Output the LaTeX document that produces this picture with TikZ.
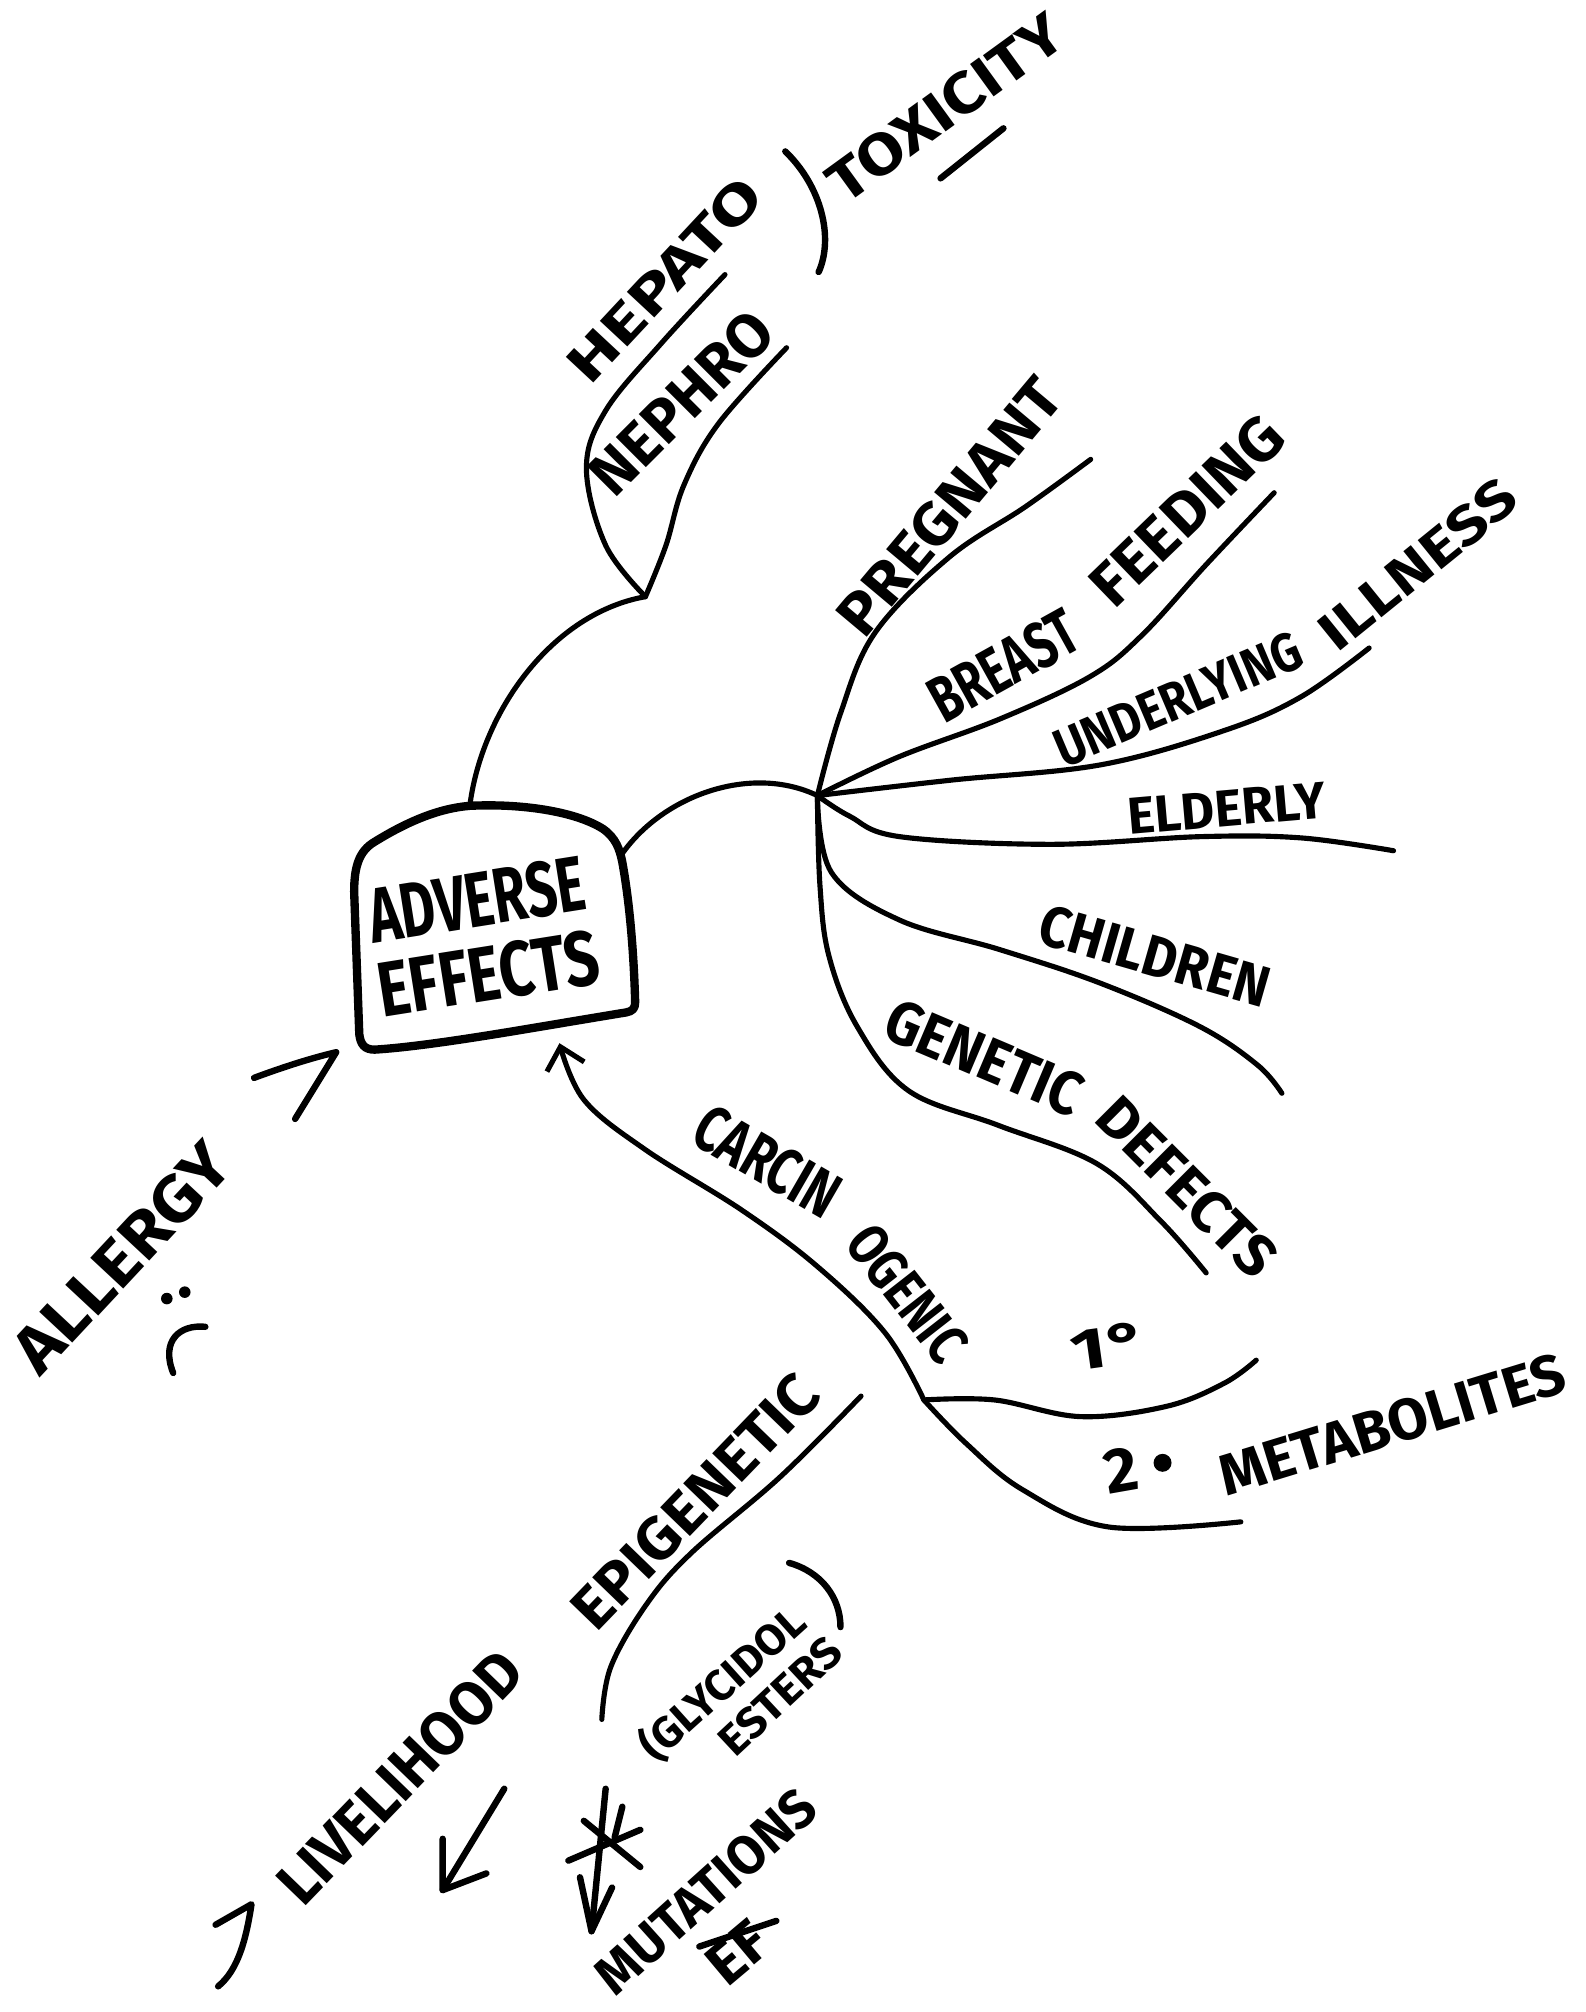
\documentclass[tikz,border=0pt]{standalone}
\usepackage{fontspec}
\setmainfont{Fira Sans}
\usetikzlibrary{arrows.meta}
% hand-lettered caps: text squeezed into a given width and height
\newcommand\handtxt[3]{\resizebox{#1pt}{#2pt}{\bfseries #3}}
\begin{document}
\begin{tikzpicture}[x=1pt,y=-1pt,line cap=round,line join=round]
\tikzset{
  conn/.style={line width=4pt},
  stroke/.style={line width=5pt},
  boxline/.style={line width=6.5pt},
  lbl/.style={inner sep=0pt,outer sep=0pt},
  barb/.style={-{Straight Barb[length=16pt,width=30pt,line width=4pt]}}
}
\fill[white] (0,0) rectangle (1236,1568);
\useasboundingbox (0,0) rectangle (1236,1568);

% ---------- central box ----------
\node[lbl,rotate=9,align=center,font=\fontsize{10}{58}\selectfont] (ae) at (376,730)
  {\handtxt{170}{43}{ADVERSE}\\\handtxt{174}{43}{EFFECTS}};
\draw[boxline] (276,695) .. controls (276,675) and (280,663) .. (292,656)
  .. controls (318,640) and (342,630) .. (366,628)
  .. controls (405,626) and (448,632) .. (470,646)
  .. controls (480,653) and (483,662) .. (485,672)
  .. controls (491,705) and (494,745) .. (495,781)
  .. controls (495,786) and (493,788) .. (488,789)
  .. controls (420,800) and (340,815) .. (292,818)
  .. controls (284,818) and (281,814) .. (280,806)
  -- cycle;
\coordinate (boxtop) at (366,629);
\coordinate (boxright) at (483,668);
\coordinate (boxbot) at (436,813);
\coordinate (boxleft) at (262,820);

% ---------- toxicity branch ----------
\coordinate (jtop) at (503,465);
\coordinate (hepend) at (565,214);
\coordinate (nepend) at (613,271);
\draw[conn] (boxtop) .. controls (375,555) and (430,478) .. (jtop);
\draw[conn] plot[smooth,tension=0.6] coordinates {(jtop) (472,425) (457,365) (472,320) (515,268) (hepend)};
\draw[conn] plot[smooth,tension=0.6] coordinates {(jtop) (519,425) (533,378) (560,330) (nepend)};
\node[lbl,rotate=47] (hep) at (518,218) {\handtxt{200}{30}{HEPATO}};
\node[lbl,rotate=45] (nep) at (531,314) {\handtxt{180}{34}{NEPHRO}};
\coordinate (pa) at (612,118);
\coordinate (pb) at (638,212);
\draw[stroke] (pa) .. controls (640,145) and (650,185) .. (pb);
\node[lbl,rotate=36] (tox) at (737,84) {\handtxt{215}{32}{TOXICITY}};
\coordinate (ula) at (733,139);
\coordinate (ulb) at (782,100);
\draw[stroke] (ula) -- (ulb);

% ---------- risk groups ----------
\coordinate (hub) at (637,620);
\draw[conn] (boxright) .. controls (515,620) and (585,595) .. (hub);
\coordinate (pregend) at (850,358);
\coordinate (brend) at (993,384);
\coordinate (unend) at (1067,505);
\coordinate (elend) at (1086,663);
\coordinate (chend) at (999,852);
\coordinate (geend) at (940,992);
\draw[conn] plot[smooth,tension=0.6] coordinates {(hub) (655,556) (682,493) (740,434) (799,395) (pregend)};
\draw[conn] plot[smooth,tension=0.6] coordinates {(hub) (700,590) (780,560) (850,527) (890,495) (940,440) (brend)};
\draw[conn] plot[smooth,tension=0.6] coordinates {(hub) (741,608) (858,596) (955,569) (1014,543) (unend)};
\draw[conn] plot[smooth,tension=0.6] coordinates {(hub) (662,636) (701,652) (819,658) (936,652) (1014,653) (elend)};
\draw[conn] plot[smooth,tension=0.6] coordinates {(hub) (648,680) (701,717) (779,740) (857,766) (935,800) (980,830) (chend)};
\draw[conn] plot[smooth,tension=0.6] coordinates {(hub) (639,690) (646,745) (668,800) (708,850) (778,877) (855,907) (905,952) (geend)};
\node[lbl,rotate=50] (preg) at (740,395) {\handtxt{245}{33}{PREGNANT}};
\node[lbl,rotate=29] (brst) at (782,519) {\handtxt{125}{36}{BREAST}};
\node[lbl,rotate=44] (feed) at (925,398) {\handtxt{190}{34}{FEEDING}};
\node[lbl,rotate=23] (undl) at (918,545) {\handtxt{205}{30}{UNDERLYING}};
\node[lbl,rotate=39] (ills) at (1105,440) {\handtxt{185}{30}{ILLNESS}};
\node[lbl,rotate=5] (eld) at (956,630) {\handtxt{155}{28}{ELDERLY}};
\node[lbl,rotate=-16] (chd) at (900,745) {\handtxt{185}{32}{CHILDREN}};
\node[lbl,rotate=-23] (gen) at (767,824) {\handtxt{162}{34}{GENETIC}};
\node[lbl,rotate=-45] (dfc) at (925,925) {\handtxt{178}{32}{DEFECTS}};

% ---------- carcinogenic branch ----------
\coordinate (cj) at (720,1091);
\draw[conn,barb] plot[smooth,tension=0.6] coordinates {(cj) (690,1039) (637,987) (578,943) (503,896) (455,857) (boxbot)};
\node[lbl,rotate=-30] (carc1) at (598,905) {\handtxt{122}{36}{CARCIN}};
\node[lbl,rotate=-52] (carc2) at (707,1008) {\handtxt{122}{32}{OGENIC}};
\coordinate (prend) at (979,1060);
\coordinate (seend) at (967,1186);
\draw[conn] plot[smooth,tension=0.6] coordinates {(cj) (775,1091) (842,1104) (909,1096) (954,1078) (prend)};
\draw[conn] plot[smooth,tension=0.6] coordinates {(cj) (753,1125) (797,1161) (864,1190) (seend)};
\node[lbl,rotate=8] (prim) at (864,1049) {\handtxt{60}{32}{1°}};
\node[lbl,rotate=10] (sec) at (874,1146) {\handtxt{26}{34}{2}};
\fill (906,1140) circle (7);
\node[lbl,rotate=17] (metab) at (1085,1110) {\handtxt{280}{32}{METABOLITES}};

% ---------- epigenetic ----------
\coordinate (epa) at (671,1088);
\coordinate (epb) at (469,1340);
\draw[conn] plot[smooth,tension=0.6] coordinates {(epa) (608,1151) (539,1210) (504,1250) (476,1299) (epb)};
\node[lbl,rotate=46] (epi) at (542,1170) {\handtxt{255}{33}{EPIGENETIC}};
\node[lbl,rotate=42] (glyc) at (563,1312) {\handtxt{160}{29}{(GLYCIDOL}};
\node[lbl,rotate=43] (est) at (608,1322) {\handtxt{118}{24}{ESTERS}};
\coordinate (pc) at (615,1218);
\coordinate (pd) at (655,1268);
\draw[stroke] (pc) .. controls (640,1225) and (655,1245) .. (pd);

% ---------- livelihood ----------
\coordinate (dwa) at (168,1500);
\coordinate (dwb) at (196,1484);
\coordinate (dwc) at (170,1548);
\draw[stroke] (dwa) -- (dwb) .. controls (192,1510) and (186,1535) .. (dwc);
\node[lbl,rotate=46] (live) at (312,1385) {\handtxt{252}{34}{LIVELIHOOD}};
\coordinate (lva) at (393,1394);
\coordinate (lvb) at (345,1473);
\coordinate (lvc) at (345,1433);
\coordinate (lvd) at (379,1460);
\draw[stroke] (lva) -- (lvb);
\draw[stroke] (lvc) -- (lvb) -- (lvd);

% ---------- mutations ----------
\coordinate (mta) at (472,1394);
\coordinate (mtb) at (461,1505);
\draw[stroke] (mta) -- (mtb);
\draw[stroke] (452,1463) -- (mtb) -- (477,1471);
\draw[stroke] (443,1450) -- (499,1426);
\draw[stroke] (455,1419) -- (499,1455);
\draw[stroke] (485,1408) -- (479,1432);
\node[lbl,rotate=42] (mut) at (550,1474) {\handtxt{215}{30}{MUTATIONS}};
\node[lbl,rotate=40] (ef) at (575,1522) {\handtxt{48}{32}{EF}};
\draw[stroke] (545,1517) -- (605,1497);

% ---------- allergy ----------
\node[lbl,rotate=47] (allg) at (95,980) {\handtxt{223}{36}{ALLERGY}};
\fill (130,1012) circle (4.5);
\fill (144,1007) circle (4.5);
\coordinate (ma) at (160,1034);
\coordinate (mb) at (135,1070);
\draw[stroke] (ma) .. controls (140,1032) and (125,1045) .. (mb);
\coordinate (caa) at (198,840);
\coordinate (cab) at (230,872);
\draw[stroke] (caa) .. controls (225,830) and (245,824) .. (boxleft) -- (cab);
\end{tikzpicture}
\end{document}
